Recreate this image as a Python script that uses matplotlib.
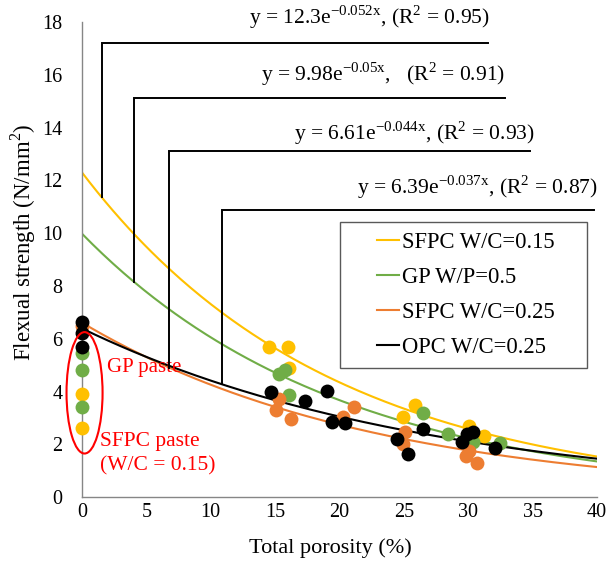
import numpy as np
import matplotlib
matplotlib.use('Agg')
import matplotlib.pyplot as plt
from matplotlib.patches import Ellipse, Rectangle

plt.rcParams['font.family'] = ['Liberation Serif', 'DejaVu Serif']
plt.rcParams['mathtext.fontset'] = 'custom'
plt.rcParams['mathtext.rm'] = 'Liberation Serif'

# data
series_names = ['SFPC W/C=0.15', 'GP W/P=0.5', 'SFPC W/C=0.25', 'OPC W/C=0.25']
series_colors = ['#FFC000', '#70AD47', '#ED7D31', '#000000']

sfpc15_x = [0, 0, 14.5, 16.0, 16.1, 24.9, 25.9, 30.1, 31.2]
sfpc15_y = [3.9, 2.6, 5.68, 5.68, 4.9, 3.05, 3.47, 2.68, 2.3]

gp_x = [0, 0, 0, 15.3, 15.8, 16.1, 26.5, 28.4, 30.4, 32.5]
gp_y = [5.45, 4.8, 3.4, 4.65, 4.8, 3.85, 3.2, 2.38, 2.1, 2.03]

sfpc25_x = [0, 15.3, 15.1, 16.2, 20.3, 21.15, 25.1, 24.9, 29.8, 30.1, 30.7]
sfpc25_y = [6.5, 3.7, 3.3, 2.95, 3.05, 3.4, 2.45, 2.0, 1.55, 1.75, 1.3]

opc_x = [0, 0, 0, 14.7, 17.3, 19.0, 19.4, 20.4, 24.5, 25.35, 26.5, 29.5, 29.9, 30.4, 32.1]
opc_y = [6.65, 6.2, 5.7, 3.97, 3.64, 4.02, 2.83, 2.8, 2.2, 1.65, 2.58, 2.1, 2.38, 2.45, 1.87]

# exponential fits y = a * exp(-b x)
fit_a = [12.3, 9.98, 6.61, 6.39]
fit_b = [0.052, 0.05, 0.044, 0.037]
fit_r2 = [0.95, 0.91, 0.93, 0.87]
fit_series = [0, 1, 2, 3]  # which series each equation belongs to
eq_labels = [
    r'y = 12.3e$^{\mathregular{-0.052x}}$, (R$^{\mathregular{2}}$ = 0.95)',
    r'y = 9.98e$^{\mathregular{-0.05x}}$,   (R$^{\mathregular{2}}$ = 0.91)',
    r'y = 6.61e$^{\mathregular{-0.044x}}$, (R$^{\mathregular{2}}$ = 0.93)',
    r'y = 6.39e$^{\mathregular{-0.037x}}$, (R$^{\mathregular{2}}$ = 0.87)',
]

xs_all = [sfpc15_x, gp_x, sfpc25_x, opc_x]
ys_all = [sfpc15_y, gp_y, sfpc25_y, opc_y]

fig = plt.figure(figsize=(6.09, 5.72), dpi=100)
ax = fig.add_axes([0.1346, 0.131, 0.8456, 0.8305])

# fitted curves
xx = np.linspace(0, 40, 200)
fit_colors = [series_colors[i] for i in fit_series]
for a, b, c, name in zip(fit_a, fit_b, fit_colors, series_names):
    ax.plot(xx, a * np.exp(-b * xx), color=c, lw=1.5, label=name, zorder=2)

# data points
for x, y, c in zip(xs_all, ys_all, series_colors):
    ax.scatter(x, y, s=100, color=c, linewidths=0, zorder=3, clip_on=False)

# leader lines to the equations
lead_x = [1.53, 4.04, 6.76, 10.9]
lead_top = [17.19, 15.12, 13.12, 10.87]
lead_end = [31.5, 32.85, 34.8, 39.8]
text_right = [31.7, 32.85, 35.2, 40.1]
text_gap = [12, 10, 4, 9]  # px above the line
for i in range(4):
    y0 = fit_a[i] * np.exp(-fit_b[i] * lead_x[i])
    ax.plot([lead_x[i], lead_x[i], lead_end[i]], [y0, lead_top[i], lead_top[i]],
            color='black', lw=1.4, zorder=4, solid_joinstyle='miter')
    ax.annotate(eq_labels[i], (text_right[i], lead_top[i]), xytext=(0, text_gap[i] * 0.72),
                textcoords='offset points', ha='right', va='bottom', fontsize=15.5,
                annotation_clip=False)

# red ellipse and notes
ax.add_patch(Ellipse((0.2, 3.95), width=2.8, height=4.6, fill=False, ec='#FF0000',
                     lw=1.5, clip_on=False, zorder=5))
ax.text(1.95, 4.9, 'GP paste', color='#FF0000', fontsize=15, va='center', ha='left')
ax.text(1.4, 2.12, 'SFPC paste', color='#FF0000', fontsize=15.5, va='center', ha='left')
ax.text(1.4, 1.17, '(W/C = 0.15)', color='#FF0000', fontsize=15.5, va='center', ha='left')

ax.set_xlim(0, 40)
ax.set_ylim(0, 18)
ax.set_xticks(range(0, 41, 5))
ax.set_yticks(range(0, 19, 2))
ax.tick_params(length=0, labelsize=14.5)
ax.tick_params(axis='y', pad=14)
ax.tick_params(axis='x', pad=4)
for s in ['top', 'right']:
    ax.spines[s].set_visible(False)
for s in ['left', 'bottom']:
    ax.spines[s].set_color('#868686')
    ax.spines[s].set_linewidth(1.0)

fig.text(330 / 609, 1 - 548 / 572, 'Total porosity (%)', ha='center', va='center', fontsize=16)
fig.text(23 / 609, 1 - 242 / 572, r'Flexual strength (N/mm$^{\mathregular{2}}$)', ha='center',
         va='center', rotation=90, fontsize=16.5)

# legend (lines only) with a hand-drawn frame
leg = ax.legend(loc='center left', bbox_to_anchor=(0.572, 0.425), frameon=False,
                fontsize=16.3, handlelength=1.0, handletextpad=0.12, labelspacing=0.62,
                borderpad=0, borderaxespad=0)
ax.add_patch(Rectangle((0.501, 0.2716), 0.48, 0.3074, transform=ax.transAxes, fill=False,
                       ec='#595959', lw=1.0, zorder=6))

fig.savefig('out.png', dpi=100, facecolor='white')
